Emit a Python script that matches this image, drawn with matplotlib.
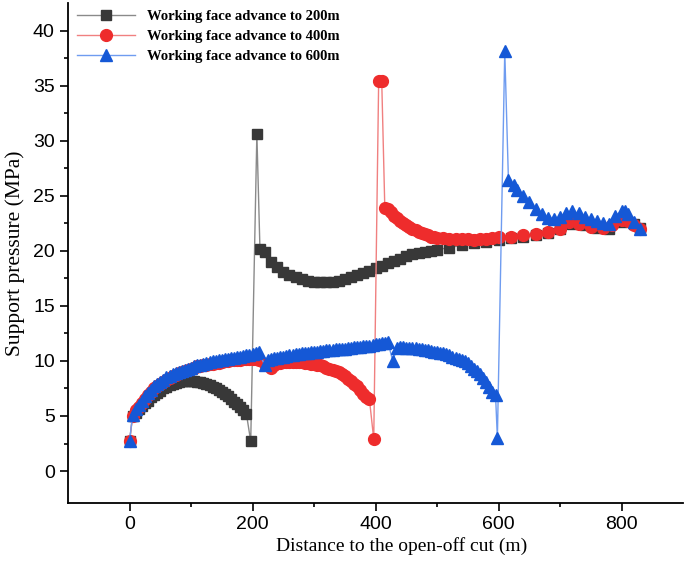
import numpy as np
import matplotlib
matplotlib.use("Agg")
import matplotlib.pyplot as plt

# working face advanced to 200 m
x200 = (list(range(0, 195, 5)) + [197, 207, 212]
        + list(range(220, 510, 10)) + list(range(520, 820, 20)) + [820, 830])
y200 = [2.7, 5.0, 5.3, 5.6, 5.9, 6.2, 6.4, 6.7, 6.9, 7.1,
        7.3, 7.5, 7.6, 7.8, 7.9, 8.0, 8.1, 8.15, 8.2, 8.2,
        8.2, 8.15, 8.1, 8.05, 8.0, 7.9, 7.8, 7.65, 7.5, 7.35,
        7.2, 7.0, 6.8, 6.55, 6.3, 6.05, 5.8, 5.5, 5.2,
        2.7, 30.6, 20.2,
        19.9, 19.0, 18.5, 18.1, 17.8, 17.6, 17.4, 17.3, 17.2, 17.2,
        17.2, 17.2, 17.3, 17.4, 17.6, 17.8, 18.0, 18.2, 18.4, 18.6,
        18.9, 19.1, 19.3, 19.5, 19.7, 19.8, 19.9, 20.0, 20.1,
        20.3, 20.5, 20.7, 20.8, 21.0, 21.2, 21.3, 21.4, 21.6, 22.0, 22.4, 22.3, 22.1, 22.0, 22.6,
        22.4, 22.1]

# working face advanced to 400 m
x400 = (list(range(0, 215, 5)) + [220, 230] + list(range(235, 395, 5))
        + [397, 405, 410] + list(range(415, 505, 5))
        + [510, 520, 530, 540, 550, 560, 570, 580, 590, 600, 620, 640, 660, 680, 700,
           715, 730, 750, 770, 785, 800, 810, 820, 830])
y400 = [2.7, 5.0, 5.5, 5.85, 6.2, 6.55, 6.9, 7.2, 7.5, 7.7,
        7.9, 8.1, 8.3, 8.45, 8.6, 8.75, 8.9, 9.0, 9.1, 9.2,
        9.3, 9.4, 9.5, 9.55, 9.6, 9.65, 9.7, 9.75, 9.8, 9.85,
        9.9, 9.95, 10.0, 10.05, 10.1, 10.1, 10.1, 10.15, 10.2, 10.2,
        10.2, 10.15, 10.1,
        9.7, 9.4,
        9.6, 9.8, 9.85, 9.9, 9.9, 9.9, 9.9, 9.9, 9.9, 9.9,
        9.85, 9.8, 9.75, 9.7, 9.65, 9.6, 9.5, 9.4, 9.3, 9.2,
        9.1, 9.0, 8.8, 8.6, 8.4, 8.2, 7.95, 7.7, 7.35, 7.0,
        6.7, 6.5,
        2.9, 35.4, 35.4,
        23.9, 23.8, 23.5, 23.2, 22.95, 22.7, 22.5, 22.3, 22.15, 22.0,
        21.85, 21.7, 21.6, 21.5, 21.4, 21.3, 21.25, 21.2,
        21.15, 21.1, 21.1, 21.1, 21.05, 21.0, 21.05, 21.1, 21.2, 21.3, 21.3, 21.4, 21.5, 21.7,
        22.0, 22.6, 22.4, 22.2, 22.1, 22.3, 22.8, 22.7, 22.3, 22.0]

# working face advanced to 600 m
x600 = (list(range(0, 215, 5)) + [220] + list(range(225, 425, 5)) + [428]
        + list(range(435, 600, 5))
        + [598, 610, 616, 625, 630, 640, 650, 660, 670, 680, 690, 700, 710, 720, 730,
           740, 750, 760, 770, 780, 790, 800, 805, 810, 820, 830])
y600 = [2.7, 5.1, 5.6, 6.0, 6.4, 6.8, 7.1, 7.4, 7.7, 7.9,
        8.1, 8.3, 8.5, 8.65, 8.8, 8.9, 9.0, 9.1, 9.2, 9.3,
        9.4, 9.5, 9.6, 9.65, 9.7, 9.8, 9.9, 9.95, 10.0, 10.05,
        10.1, 10.15, 10.2, 10.25, 10.3, 10.35, 10.4, 10.45, 10.5, 10.55,
        10.6, 10.7, 10.8,
        9.6,
        10.1, 10.2, 10.25, 10.3, 10.35, 10.4, 10.45, 10.5, 10.55, 10.6,
        10.65, 10.7, 10.7, 10.75, 10.8, 10.8, 10.85, 10.9, 10.9, 10.95,
        11.0, 11.0, 11.05, 11.05, 11.1, 11.1, 11.15, 11.2, 11.25, 11.3,
        11.3, 11.35, 11.4, 11.4, 11.45, 11.5, 11.55, 11.6, 11.65, 11.7,
        10.0,
        11.2, 11.3, 11.25, 11.2, 11.2, 11.2, 11.15, 11.1, 11.05, 11.0,
        10.95, 10.9, 10.85, 10.8, 10.75, 10.7, 10.6, 10.5, 10.4, 10.3,
        10.2, 10.1, 9.95, 9.8, 9.55, 9.3, 9.05, 8.8, 8.45, 8.1,
        7.6, 7.2, 6.9,
        3.0, 38.1, 26.4, 26.0, 25.5, 25.0, 24.4, 23.8, 23.3, 23.0, 22.9, 23.1, 23.4, 23.6, 23.4,
        23.1, 22.9, 22.7, 22.5, 22.4, 23.2, 23.6, 23.6, 23.3, 22.6, 22.0]

labels = ["Working face advance to 200m", "Working face advance to 400m", "Working face advance to 600m"]

fig = plt.figure(figsize=(6.85, 5.74), dpi=100)
ax = fig.add_axes([0.0993, 0.1237, 0.898, 0.871])

ax.plot(x200, y200, color="#8a8a8a", lw=1, marker="s", ms=7.5,
        mfc="#383838", mec="#383838", label=labels[0])
ax.plot(x400, y400, color="#f08080", lw=1, marker="o", ms=8.5,
        mfc="#ee2c2c", mec="#ee2c2c", label=labels[1])
ax.plot(x600, y600, color="#6f9cf0", lw=1, marker="^", ms=9,
        mfc="#1558d6", mec="#1558d6", label=labels[2])

ax.set_xlim(-100, 900)
ax.set_ylim(-2.9, 42.5)
ax.set_xticks([0, 200, 400, 600, 800])
ax.set_xticks(np.arange(100, 900, 200), minor=True)
ax.set_yticks(np.arange(0, 41, 5))
ax.set_yticks(np.arange(2.5, 42.5, 5), minor=True)

for s in ["top", "right"]:
    ax.spines[s].set_visible(False)
for s in ["left", "bottom"]:
    ax.spines[s].set_linewidth(1.3)

ax.tick_params(which="major", direction="out", length=6, width=1.2, labelsize=14)
ax.tick_params(which="minor", direction="out", length=3, width=1.2)
for t in ax.get_xticklabels() + ax.get_yticklabels():
    t.set_family("Liberation Sans")

ax.set_xlabel("Distance to the open-off cut (m)", family="Liberation Serif", fontsize=14)
ax.xaxis.set_label_coords(0.543, -0.068)
ax.set_ylabel("Support pressure (MPa)", family="Liberation Serif", fontsize=15.5, labelpad=6)

ax.legend(loc="upper left", bbox_to_anchor=(0.093, 1.005), bbox_transform=fig.transFigure,
          frameon=False, handlelength=4.0, handletextpad=0.8, labelspacing=0.45,
          prop={"family": "Liberation Serif", "weight": "bold", "size": 10.5})

fig.savefig("out.png", dpi=100)
